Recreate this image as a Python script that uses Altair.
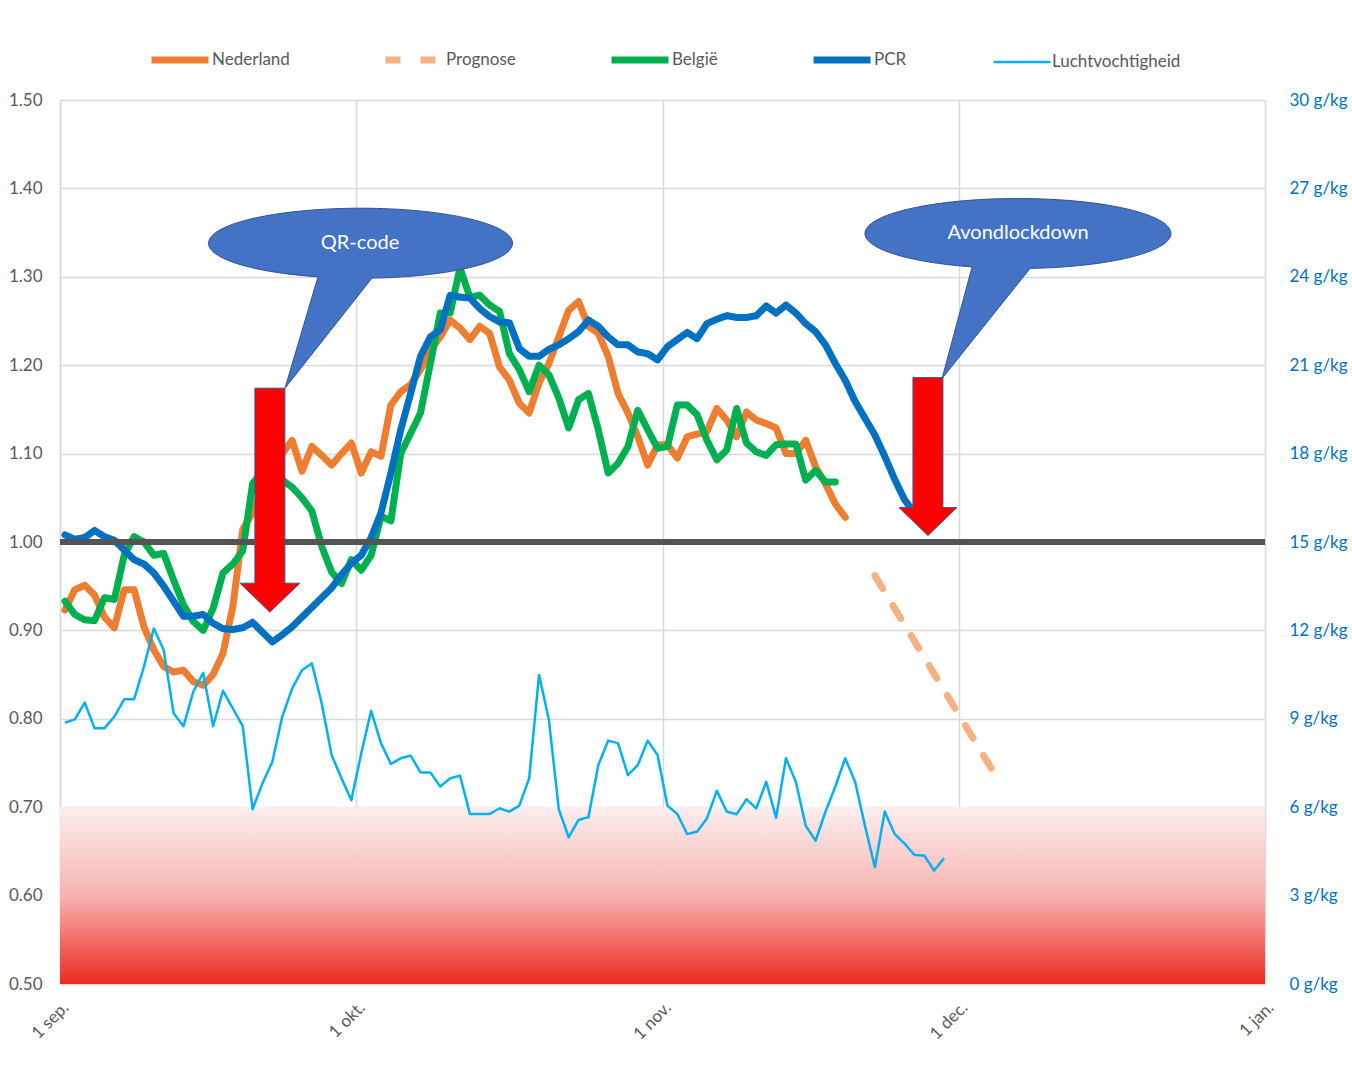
import altair as alt
import pandas as pd

# ---------------- data ----------------
nederland = [0.923, 0.946, 0.951, 0.940, 0.915, 0.903, 0.946, 0.946, 0.904, 0.878,
             0.859, 0.853, 0.855, 0.842, 0.838, 0.850, 0.874, 0.927, 1.014, 1.033,
             1.060, 1.085, 1.100, 1.115, 1.080, 1.108, 1.098, 1.087, 1.100, 1.112,
             1.078, 1.102, 1.097, 1.155, 1.170, 1.178, 1.195, 1.217, 1.232, 1.251,
             1.242, 1.229, 1.244, 1.236, 1.198, 1.183, 1.157, 1.146, 1.180, 1.202,
             1.232, 1.262, 1.272, 1.244, 1.236, 1.210, 1.168, 1.146, 1.119, 1.087,
             1.110, 1.110, 1.095, 1.119, 1.122, 1.125, 1.151, 1.138, 1.119, 1.147,
             1.138, 1.134, 1.129, 1.100, 1.100, 1.115, 1.085, 1.066, 1.043, 1.028]

belgie = [0.933, 0.918, 0.912, 0.911, 0.937, 0.935, 0.985, 1.006, 1.000, 0.985,
          0.987, 0.957, 0.929, 0.910, 0.900, 0.925, 0.965, 0.975, 0.990, 1.066,
          1.080, 1.085, 1.070, 1.062, 1.050, 1.035, 0.995, 0.966, 0.953, 0.980,
          0.968, 0.985, 1.029, 1.024, 1.100, 1.123, 1.146, 1.202, 1.259, 1.259,
          1.310, 1.277, 1.279, 1.268, 1.261, 1.213, 1.195, 1.170, 1.200, 1.189,
          1.163, 1.129, 1.161, 1.168, 1.127, 1.078, 1.089, 1.108, 1.149, 1.127,
          1.106, 1.108, 1.155, 1.155, 1.144, 1.115, 1.093, 1.104, 1.151, 1.112,
          1.102, 1.098, 1.110, 1.111, 1.111, 1.070, 1.081, 1.068, 1.068]

pcr = [1.008, 1.003, 1.005, 1.013, 1.006, 1.002, 0.991, 0.980, 0.975, 0.965,
       0.950, 0.933, 0.916, 0.916, 0.918, 0.908, 0.902, 0.901, 0.903, 0.909,
       0.898, 0.887, 0.895, 0.904, 0.915, 0.926, 0.937, 0.948, 0.963, 0.976,
       0.985, 1.005, 1.033, 1.078, 1.127, 1.168, 1.210, 1.232, 1.240, 1.279,
       1.277, 1.276, 1.264, 1.255, 1.249, 1.248, 1.219, 1.210, 1.210, 1.218,
       1.223, 1.230, 1.238, 1.251, 1.244, 1.232, 1.223, 1.223, 1.215, 1.213,
       1.206, 1.221, 1.229, 1.237, 1.230, 1.247, 1.252, 1.256, 1.254, 1.254,
       1.256, 1.267, 1.259, 1.268, 1.259, 1.247, 1.238, 1.223, 1.202, 1.183,
       1.159, 1.140, 1.121, 1.097, 1.071, 1.048, 1.033, 1.022]

prognose_days = [82, 94]
prognose = [0.962, 0.740]

luchtvochtigheid = [8.87, 8.98, 9.55, 8.68, 8.68, 9.07, 9.66, 9.66, 10.77, 12.07,
                    11.33, 9.19, 8.75, 9.92, 10.56, 8.75, 9.95, 9.35, 8.75, 5.93,
                    6.81, 7.54, 9.07, 10.03, 10.65, 10.88, 9.52, 7.77, 6.98, 6.24,
                    7.83, 9.27, 8.17, 7.47, 7.66, 7.75, 7.18, 7.18, 6.70, 6.98,
                    7.07, 5.77, 5.77, 5.77, 5.96, 5.85, 6.05, 6.98, 10.49, 8.96,
                    5.93, 4.98, 5.57, 5.66, 7.43, 8.26, 8.17, 7.09, 7.43, 8.26,
                    7.77, 6.05, 5.77, 5.09, 5.17, 5.62, 6.56, 5.85, 5.76, 6.27,
                    5.96, 6.86, 5.64, 7.66, 6.86, 5.37, 4.86, 5.85, 6.70, 7.66,
                    6.86, 5.37, 3.96, 5.85, 5.09, 4.77, 4.38, 4.36, 3.85, 4.27]

series_names = ["Nederland", "Prognose", "België", "PCR", "Luchtvochtigheid"]
series_colors = ["#ed7d31", "#f4b183", "#00b050", "#0070c0", "#00b0f0"]
series_widths = [7, 7, 7, 7, 2.5]
series_dash = [[1, 0], [15, 20], [1, 0], [1, 0], [1, 0]]

months_nl = ["jan.", "feb.", "mrt.", "apr.", "mei", "jun.", "jul.", "aug.",
             "sep.", "okt.", "nov.", "dec."]
left_ticks = [0.5, 0.6, 0.7, 0.8, 0.9, 1.0, 1.1, 1.2, 1.3, 1.4, 1.5]
right_ticks = [0, 3, 6, 9, 12, 15, 18, 21, 24, 27, 30]

# annotations: anchor (date, value) + label
callouts = [
    {"date": "2021-10-01T09:00:00", "value": 1.338, "label": "QR-code"},
    {"date": "2021-12-07T00:00:00", "value": 1.349, "label": "Avondlockdown"},
]
arrows = [
    {"date": "2021-09-22T06:00:00", "value": 1.174},
    {"date": "2021-11-27T21:00:00", "value": 1.186},
]

# shapes (pixel units, symbol size 4 -> scale 1)
callout_paths = [
    "M 12 34.9 A 152 35 0 1 0 -42 33.6 L -75 145 Z",
    "M 12 34.9 A 153 35 0 1 0 -46 33.4 L -76 145 Z",
]
arrow_paths = [
    "M -15 0 L 15 0 L 15 195 L 30 195 L 0 224 L -30 195 L -15 195 Z",
    "M -15 0 L 15 0 L 15 130 L 29 130 L 0 158 L -29 130 L -15 130 Z",
]

# ---------------- tables ----------------
base_date = pd.Timestamp("2021-09-01 12:00")


def day_str(d):
    return (base_date + pd.Timedelta(days=d)).strftime("%Y-%m-%dT%H:%M:%S")


rows = []
for name, vals in [("Nederland", nederland), ("België", belgie), ("PCR", pcr)]:
    for i, v in enumerate(vals):
        rows.append({"date": day_str(i), "value": v, "series": name})
for d, v in zip(prognose_days, prognose):
    rows.append({"date": day_str(d), "value": v, "series": "Prognose"})
df_left = pd.DataFrame(rows)

df_hum = pd.DataFrame({
    "date": [day_str(i) for i in range(len(luchtvochtigheid))],
    "g": luchtvochtigheid,
    "series": "Luchtvochtigheid",
})

# ---------------- encodings ----------------
label_font = "Lato"
grey_text = "#595959"

x_scale = alt.Scale(domain=[alt.DateTime(year=2021, month=9, date=1),
                            alt.DateTime(year=2022, month=1, date=1)])
x_enc = alt.X(
    "date:T",
    scale=x_scale,
    axis=alt.Axis(
        values=[alt.DateTime(year=2021, month=9, date=1),
                alt.DateTime(year=2021, month=10, date=1),
                alt.DateTime(year=2021, month=11, date=1),
                alt.DateTime(year=2021, month=12, date=1),
                alt.DateTime(year=2022, month=1, date=1)],
        labelExpr="'1 ' + " + str(months_nl) + "[month(datum.value)]",
        labelAngle=-45,
        labelPadding=15,
        title=None,
        grid=True,
    ),
)

y_scale = alt.Scale(domain=[0.5, 1.5], zero=False, nice=False)
y_left = alt.Y(
    "value:Q",
    scale=y_scale,
    axis=alt.Axis(values=left_ticks, format=".2f", title=None, grid=True,
                  labelPadding=18),
)

color_enc = alt.Color("series:N",
                      scale=alt.Scale(domain=series_names, range=series_colors),
                      legend=alt.Legend(title=None))
dash_enc = alt.StrokeDash("series:N",
                          scale=alt.Scale(domain=series_names, range=series_dash),
                          legend=alt.Legend(title=None))
width_enc = alt.StrokeWidth("series:N",
                            scale=alt.Scale(type="ordinal", domain=series_names,
                                            range=series_widths),
                            legend=alt.Legend(title=None))

# ---------------- layers (left axis) ----------------
gradient = alt.Gradient(
    gradient="linear",
    stops=[alt.GradientStop(color="#fdeeee", offset=0),
           alt.GradientStop(color="#f7b3b0", offset=0.5),
           alt.GradientStop(color="#ec2a22", offset=1)],
    x1=0, x2=0, y1=0, y2=1,
)
red_zone = alt.Chart(df_left).mark_rect(color=gradient, opacity=0.95).encode(
    x=alt.X(datum=alt.DateTime(year=2021, month=9, date=1), type="temporal", scale=x_scale),
    x2=alt.X2(datum=alt.DateTime(year=2022, month=1, date=1)),
    y=alt.Y(datum=0.7, type="quantitative", scale=y_scale),
    y2=alt.Y2(datum=0.5),
)

line_base = alt.Chart(df_left).mark_line(strokeCap="round", strokeJoin="round").encode(
    x=x_enc, y=y_left, color=color_enc, strokeDash=dash_enc, strokeWidth=width_enc
)
line_layers = [line_base.transform_filter(alt.datum.series == s)
               for s in ["Nederland", "België", "PCR", "Prognose"]]

one_line = alt.Chart(df_left).mark_rule(color="#555555", strokeWidth=5, opacity=0.72).encode(
    y=alt.Y(datum=1.0, type="quantitative", scale=y_scale)
)

df_arrows = pd.DataFrame(arrows)
df_callouts = pd.DataFrame(callouts)

arrow_layers = []
for i, p in enumerate(arrow_paths):
    arrow_layers.append(
        alt.Chart(df_arrows.iloc[[i]]).mark_point(
            shape=p, size=4, filled=True, fill="#ff0000", stroke="#3b5a8f",
            strokeWidth=1, opacity=1
        ).encode(x=x_enc, y=y_left)
    )
callout_layers = []
for i, p in enumerate(callout_paths):
    callout_layers.append(
        alt.Chart(df_callouts.iloc[[i]]).mark_point(
            shape=p, size=4, filled=True, fill="#4472c4", stroke="#2f528f",
            strokeWidth=1, opacity=1
        ).encode(x=x_enc, y=y_left)
    )
callout_text = alt.Chart(df_callouts).mark_text(
    font=label_font, fontSize=20, color="white"
).encode(x=x_enc, y=y_left, text="label:N")

left = alt.layer(red_zone, *line_layers, one_line, *arrow_layers,
                 *callout_layers, callout_text)

# ---------------- right axis layer ----------------
hum = alt.Chart(df_hum).mark_line(strokeJoin="round").encode(
    x=x_enc,
    y=alt.Y("g:Q", scale=alt.Scale(domain=[0, 30], nice=False),
            axis=alt.Axis(orient="right", values=right_ticks, title=None, grid=False,
                          labelExpr="datum.value + ' g/kg'", labelColor="#0070c0",
                          domain=False, labelPadding=24)),
    color=color_enc, strokeDash=dash_enc, strokeWidth=width_enc,
)

chart = alt.layer(left, hum).resolve_scale(y="independent").properties(
    width=1205, height=884,
    autosize=alt.AutoSizeParams(type="none"),
    padding={"left": 60, "top": 100, "right": 87, "bottom": 88},
    background="white",
).configure_view(stroke=None).configure_axis(
    labelFont=label_font, labelFontSize=17, labelColor=grey_text,
    gridColor="#d9d9d9", gridWidth=1.5, domainColor="#d9d9d9", domainWidth=1.5,
    ticks=False,
).configure_legend(
    orient="none", legendX=88, legendY=-72, direction="horizontal",
    symbolType="stroke", symbolSize=3249, labelFont=label_font, labelFontSize=17,
    labelColor=grey_text, columnPadding=81, labelOffset=0,
)

chart.save("out.html", embed_options={"renderer": "svg", "actions": False})
